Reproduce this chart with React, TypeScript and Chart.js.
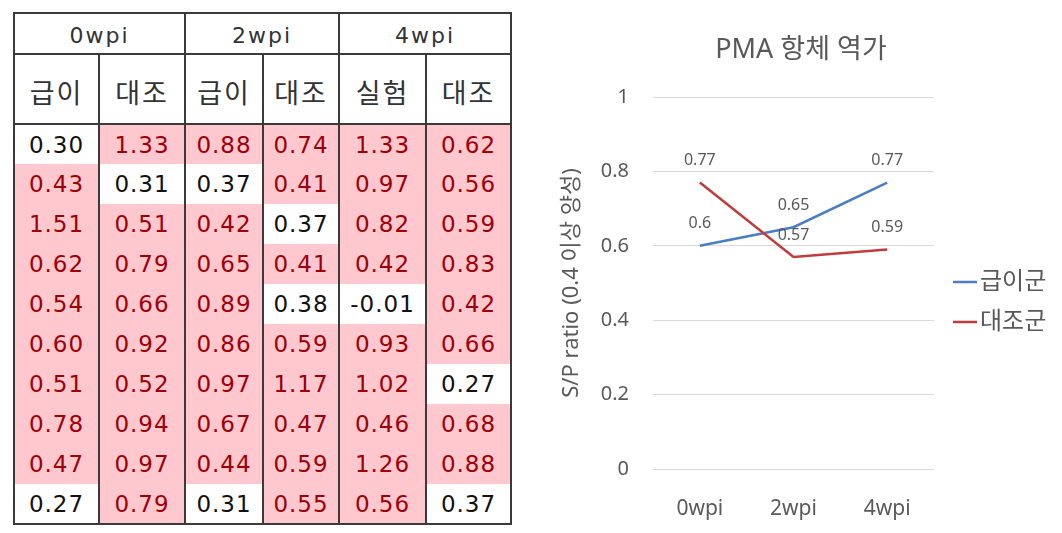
import React, { useEffect, useRef } from 'react';
import { Chart, registerables } from 'chart.js';

Chart.register(...registerables);

// ---------------- Table data ----------------
const tableWeeks = ['0wpi', '2wpi', '4wpi'];
const tableGroups = ['급이', '대조', '급이', '대조', '실험', '대조'];
const wk0Feed = [0.3, 0.43, 1.51, 0.62, 0.54, 0.6, 0.51, 0.78, 0.47, 0.27];
const wk0Control = [1.33, 0.31, 0.51, 0.79, 0.66, 0.92, 0.52, 0.94, 0.97, 0.79];
const wk2Feed = [0.88, 0.37, 0.42, 0.65, 0.89, 0.86, 0.97, 0.67, 0.44, 0.31];
const wk2Control = [0.74, 0.41, 0.37, 0.41, 0.38, 0.59, 1.17, 0.47, 0.59, 0.55];
const wk4Trial = [1.33, 0.97, 0.82, 0.42, -0.01, 0.93, 1.02, 0.46, 1.26, 0.56];
const wk4Control = [0.62, 0.56, 0.59, 0.83, 0.42, 0.66, 0.27, 0.68, 0.88, 0.37];
const positiveCutoff = 0.4;

// ---------------- Chart data ----------------
const chartTitle = 'PMA 항체 역가';
const categories = ['0wpi', '2wpi', '4wpi'];
const seriesNames = ['급이군', '대조군'];
const feedSeries = [0.6, 0.65, 0.77];
const controlSeries = [0.77, 0.57, 0.59];
const yAxisTitle = 'S/P ratio (0.4 이상 양성)';
const yTickValues = [0, 0.2, 0.4, 0.6, 0.8, 1];

// ---------------- Styles ----------------
const BLUE = '#4A7DC4';
const RED = '#C23B3B';
const GRAY = '#595959';
const PINK = '#FFC7CE';
const DARK_RED = '#9C0006';
const LINE = '2px solid #3a3a3a';
const SANS = "'Noto Sans', 'Noto Sans CJK KR', sans-serif";
const colWidths = [85, 86, 78, 76, 87, 85];

const overlayPlugin = {
  id: 'overlay',
  afterDatasetsDraw(chart: any) {
    const ctx = chart.ctx;
    ctx.save();
    ctx.font = `16px ${SANS}`;
    ctx.fillStyle = GRAY;
    ctx.textAlign = 'center';
    ctx.textBaseline = 'middle';
    chart.data.datasets.forEach((ds: any, i: number) => {
      const meta = chart.getDatasetMeta(i);
      meta.data.forEach((pt: any, j: number) => {
        ctx.fillText(String(ds.data[j]), pt.x, pt.y - 22);
      });
    });
    ctx.restore();
  },
  afterDraw(chart: any) {
    const ctx = chart.ctx;
    const area = chart.chartArea;
    ctx.save();
    // title
    ctx.font = `27px ${SANS}`;
    ctx.fillStyle = GRAY;
    ctx.textAlign = 'center';
    ctx.textBaseline = 'middle';
    ctx.fillText(chartTitle, chart.width / 2, 50);
    // legend
    ctx.font = `24px ${SANS}`;
    ctx.textAlign = 'left';
    chart.data.datasets.forEach((ds: any, i: number) => {
      const y = area.top + 185 + i * 40;
      ctx.strokeStyle = ds.borderColor;
      ctx.lineWidth = 2.5;
      ctx.beginPath();
      ctx.moveTo(area.right + 19, y);
      ctx.lineTo(area.right + 43, y);
      ctx.stroke();
      ctx.fillStyle = GRAY;
      ctx.fillText(ds.label, area.right + 46, y);
    });
    ctx.restore();
  },
};

function LineChart() {
  const canvasRef = useRef<HTMLCanvasElement>(null);
  useEffect(() => {
    const canvas = canvasRef.current!;
    const chart = new Chart(canvas, {
      type: 'line',
      data: {
        labels: categories,
        datasets: [
          {
            label: seriesNames[0],
            data: feedSeries,
            borderColor: BLUE,
            backgroundColor: BLUE,
            borderWidth: 2.5,
            pointRadius: 0,
            tension: 0,
            order: 1,
          },
          {
            label: seriesNames[1],
            data: controlSeries,
            borderColor: RED,
            backgroundColor: RED,
            borderWidth: 2.5,
            pointRadius: 0,
            tension: 0,
            order: 0,
          },
        ],
      },
      options: {
        responsive: false,
        animation: false,
        layout: { padding: { top: 97, right: 128, left: 0, bottom: 0 } },
        plugins: {
          legend: { display: false },
          title: { display: false },
          tooltip: { enabled: false },
        },
        scales: {
          x: {
            offset: true,
            grid: { display: false, drawTicks: false },
            border: { display: false },
            ticks: { padding: 27, color: GRAY, font: { family: SANS, size: 21 } },
            afterFit: (s: any) => {
              s.height = 64;
            },
          },
          y: {
            min: 0,
            max: 1,
            grid: { color: '#D9D9D9', lineWidth: 1, drawTicks: false },
            border: { display: false },
            ticks: {
              padding: 24,
              color: GRAY,
              font: { family: SANS, size: 20 },
              callback: (v: any) => String(Math.round(Number(v) * 10) / 10),
            },
            afterBuildTicks: (s: any) => {
              s.ticks = yTickValues.map((v) => ({ value: v }));
            },
            title: {
              display: true,
              text: yAxisTitle,
              color: GRAY,
              font: { family: SANS, size: 22 },
              padding: { top: 19, bottom: 0 },
            },
            afterFit: (s: any) => {
              s.width = 113;
            },
          },
        },
      },
      plugins: [overlayPlugin],
    } as any);
    return () => chart.destroy();
  }, []);
  return (
    <canvas
      ref={canvasRef}
      width={522}
      height={533}
      style={{ position: 'absolute', left: 540, top: 0, width: 522, height: 533 }}
    />
  );
}

function DataTable() {
  const columns = [wk0Feed, wk0Control, wk2Feed, wk2Control, wk4Trial, wk4Control];
  const rows = wk0Feed.map((_, r) => columns.map((c) => c[r]));
  const numFont = "'DejaVu Sans', Verdana, sans-serif";
  return (
    <table
      style={{
        position: 'absolute',
        left: 13,
        top: 12,
        width: colWidths.reduce((a, b) => a + b, 0),
        borderCollapse: 'collapse',
        tableLayout: 'fixed',
        border: LINE,
      }}
    >
      <colgroup>
        {colWidths.map((w, i) => (
          <col key={i} style={{ width: w }} />
        ))}
      </colgroup>
      <tbody>
        <tr style={{ height: 41 }}>
          {tableWeeks.map((w) => (
            <td
              key={w}
              colSpan={2}
              style={{
                border: LINE,
                textAlign: 'center',
                fontFamily: numFont,
                fontSize: 22,
                letterSpacing: 2,
                color: '#333',
                padding: 0,
                paddingTop: 3,
              }}
            >
              {w}
            </td>
          ))}
        </tr>
        <tr style={{ height: 70 }}>
          {tableGroups.map((g, i) => (
            <td
              key={i}
              style={{
                border: LINE,
                textAlign: 'center',
                fontFamily: "'Noto Sans CJK KR', sans-serif",
                fontSize: 27,
                letterSpacing: 2,
                color: '#333',
                padding: 0,
                paddingTop: 4,
              }}
            >
              {g}
            </td>
          ))}
        </tr>
        {rows.map((row, r) => (
          <tr key={r} style={{ height: 40 }}>
            {row.map((v, c) => {
              const pos = v >= positiveCutoff;
              return (
                <td
                  key={c}
                  style={{
                    borderLeft: LINE,
                    borderRight: LINE,
                    borderTop: r === 0 ? LINE : 'none',
                    borderBottom: r === rows.length - 1 ? LINE : 'none',
                    background: pos ? PINK : '#ffffff',
                    color: pos ? DARK_RED : '#111',
                    textAlign: 'center',
                    fontFamily: numFont,
                    fontSize: 23,
                    letterSpacing: 1,
                    padding: 0,
                  }}
                >
                  {v.toFixed(2)}
                </td>
              );
            })}
          </tr>
        ))}
      </tbody>
    </table>
  );
}

export default function App() {
  return (
    <div
      style={{
        position: 'fixed',
        left: 0,
        top: 0,
        width: 1062,
        height: 533,
        background: '#ffffff',
        overflow: 'hidden',
      }}
    >
      <DataTable />
      <LineChart />
    </div>
  );
}
